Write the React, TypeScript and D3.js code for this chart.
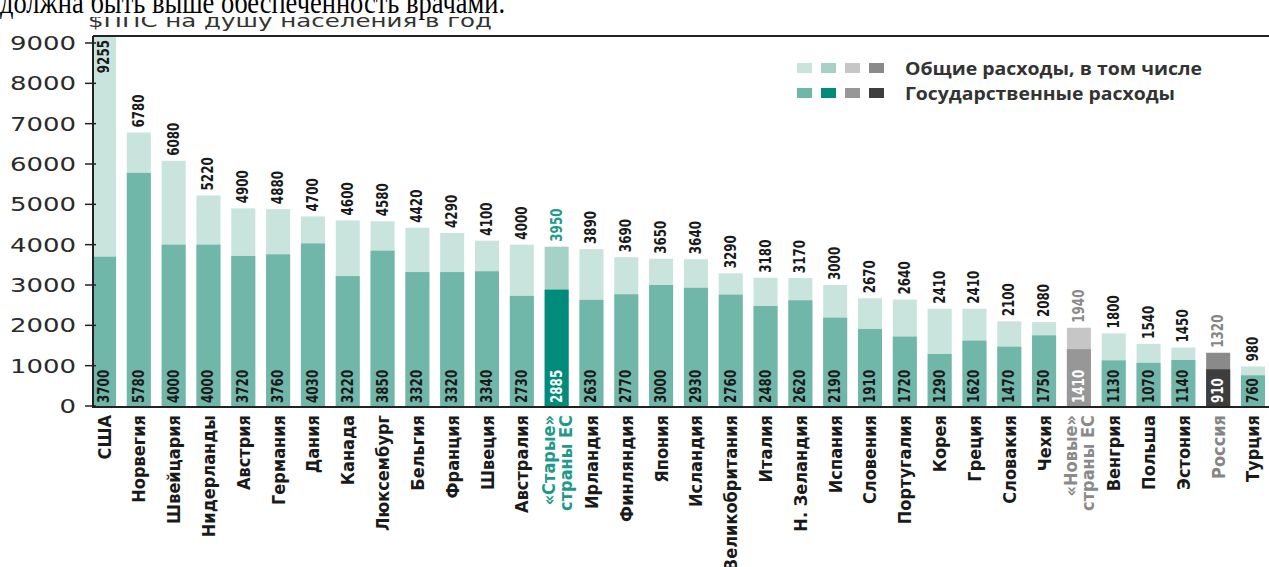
import React from 'react';
import * as d3 from 'd3';

// страны и расходы на здравоохранение, $ППС на душу населения в год
const countries = [
    'США', 'Норвегия', 'Швейцария', 'Нидерланды', 'Австрия', 'Германия', 'Дания', 'Канада',
    'Люксембург', 'Бельгия', 'Франция', 'Швеция', 'Австралия', '«Старые»\nстраны ЕС', 'Ирландия',
    'Финляндия', 'Япония', 'Исландия', 'Великобритания', 'Италия', 'Н. Зеландия', 'Испания',
    'Словения', 'Португалия', 'Корея', 'Греция', 'Словакия', 'Чехия', '«Новые»\nстраны ЕС',
    'Венгрия', 'Польша', 'Эстония', 'Россия', 'Турция'
];
const totalSpend = [
    9255, 6780, 6080, 5220, 4900, 4880, 4700, 4600, 4580, 4420, 4290, 4100, 4000, 3950, 3890,
    3690, 3650, 3640, 3290, 3180, 3170, 3000, 2670, 2640, 2410, 2410, 2100, 2080, 1940,
    1800, 1540, 1450, 1320, 980
];
const govSpend = [
    3700, 5780, 4000, 4000, 3720, 3760, 4030, 3220, 3850, 3320, 3320, 3340, 2730, 2885, 2630,
    2770, 3000, 2930, 2760, 2480, 2620, 2190, 1910, 1720, 1290, 1620, 1470, 1750, 1410,
    1130, 1070, 1140, 910, 760
];
// группа каждой страны (для цвета)
const groupOf: Record<string, string> = {
    '«Старые»\nстраны ЕС': 'old',
    '«Новые»\nстраны ЕС': 'new',
    'Россия': 'russia',
};
const yTicks = [0, 1000, 2000, 3000, 4000, 5000, 6000, 7000, 8000, 9000];
const legendLabels = ['Общие расходы, в том числе', 'Государственные расходы'];

const palette: Record<string, { total: string; gov: string; label: string; govText: string }> = {
    base: { total: '#c9e4dd', gov: '#70b6a9', label: '#1a1a1a', govText: '#1a1a1a' },
    old: { total: '#a5d1c6', gov: '#008b7b', label: '#1f9a8a', govText: '#ffffff' },
    new: { total: '#c6c6c6', gov: '#979797', label: '#8a8a8a', govText: '#ffffff' },
    russia: { total: '#8a8a8a', gov: '#3e3e3e', label: '#858585', govText: '#ffffff' },
};

const numFont = '"DejaVu Sans Condensed", "Liberation Sans Narrow", "Roboto", sans-serif';
const labelFont = '"Liberation Sans Narrow", "DejaVu Sans Condensed", "Roboto", sans-serif';

export default function App() {
    const W = 1269, H = 567;
    const x = d3.scaleBand<string>().domain(countries).range([92, 1265]).paddingInner(0.31).paddingOuter(0);
    const y = d3.scaleLinear().domain([0, 9000]).range([406, 43]);
    const axisX = 93;
    const topY = 36;

    return (
        <svg width={W} height={H} style={{ position: 'absolute', left: 0, top: 0, background: '#fff' }}>
            {/* подпись оси */}
            <text x={88} y={27} fontFamily='"DejaVu Sans", sans-serif' fontSize={18} fill="#333"
                textLength={404} lengthAdjust="spacingAndGlyphs">$ППС на душу населения в год</text>
            <rect x={0} y={0} width={W} height={17} fill="#fff" />
            <text x={0} y={13} fontFamily='"Liberation Serif", "DejaVu Serif", serif' fontSize={31} fill="#000"
                textLength={505} lengthAdjust="spacingAndGlyphs">
                должна быть выше обеспеченность врачами.
            </text>

            {/* столбцы */}
            {countries.map((c, i) => {
                const g = palette[groupOf[c] || 'base'];
                const cx = x(c)! + x.bandwidth() / 2;
                const top = Math.max(y(totalSpend[i]), topY + 1);
                const clipped = y(totalSpend[i]) < topY + 1;
                const tl = String(totalSpend[i]).length * 8.3;
                const gl = String(govSpend[i]).length * 8.3;
                return (
                    <g key={c}>
                        <rect x={x(c)} y={top} width={x.bandwidth()} height={y(0) - top} fill={g.total} />
                        <rect x={x(c)} y={y(govSpend[i])} width={x.bandwidth()} height={y(0) - y(govSpend[i])} fill={g.gov} />
                        <text transform={`translate(${cx},${clipped ? top + 3 : top - 5}) rotate(-90)`}
                            textAnchor={clipped ? 'end' : 'start'} dominantBaseline="central"
                            fontFamily={numFont} fontWeight="bold" fontSize={15} fill={g.label}
                            textLength={tl} lengthAdjust="spacingAndGlyphs">
                            {totalSpend[i]}
                        </text>
                        <text transform={`translate(${cx},${y(0) - 3}) rotate(-90)`}
                            textAnchor="start" dominantBaseline="central"
                            fontFamily={numFont} fontWeight="bold" fontSize={15} fill={g.govText}
                            textLength={gl} lengthAdjust="spacingAndGlyphs">
                            {govSpend[i]}
                        </text>
                        {c.split('\n').map((line, j, arr) => (
                            <text key={j}
                                transform={`translate(${cx + (j - (arr.length - 1) / 2) * 17},${y(0) + 9}) rotate(-90)`}
                                textAnchor="end" dominantBaseline="central"
                                fontFamily={labelFont} fontWeight="bold" fontSize={18} fill={g.label}>
                                {line}
                            </text>
                        ))}
                    </g>
                );
            })}

            {/* оси и рамка */}
            <line x1={axisX} x2={W} y1={topY} y2={topY} stroke="#222" strokeWidth={2} />
            <line x1={axisX} x2={W} y1={y(0) + 1} y2={y(0) + 1} stroke="#222" strokeWidth={2} />
            <line x1={axisX} x2={axisX} y1={topY} y2={y(0) + 2} stroke="#222" strokeWidth={2} />
            {yTicks.map(t => (
                <g key={t}>
                    <line x1={axisX - 8} x2={axisX + 3} y1={y(t)} y2={y(t)} stroke="#222" strokeWidth={1.5} />
                    <text x={76} y={y(t)} textAnchor="end" dominantBaseline="central"
                        fontFamily='"DejaVu Sans", sans-serif' fontSize={19} fill="#2a2a2a"
                        textLength={String(t).length * 16.5} lengthAdjust="spacingAndGlyphs">{t}</text>
                </g>
            ))}

            {/* легенда */}
            {legendLabels.map((lbl, r) => {
                const keys = ['base', 'old', 'new', 'russia'];
                return (
                    <g key={lbl}>
                        {keys.map((k, j) => (
                            <rect key={k} x={797 + j * 24} y={63 + r * 25} width={15} height={10}
                                fill={r === 0 ? palette[k].total : palette[k].gov} />
                        ))}
                        <text x={905} y={68 + r * 25} dominantBaseline="central"
                            fontFamily='"Open Sans", sans-serif' fontWeight="bold" fontSize={17} fill="#333"
                            textLength={r === 0 ? 297 : 270} lengthAdjust="spacingAndGlyphs">{lbl}</text>
                    </g>
                );
            })}
        </svg>
    );
}
